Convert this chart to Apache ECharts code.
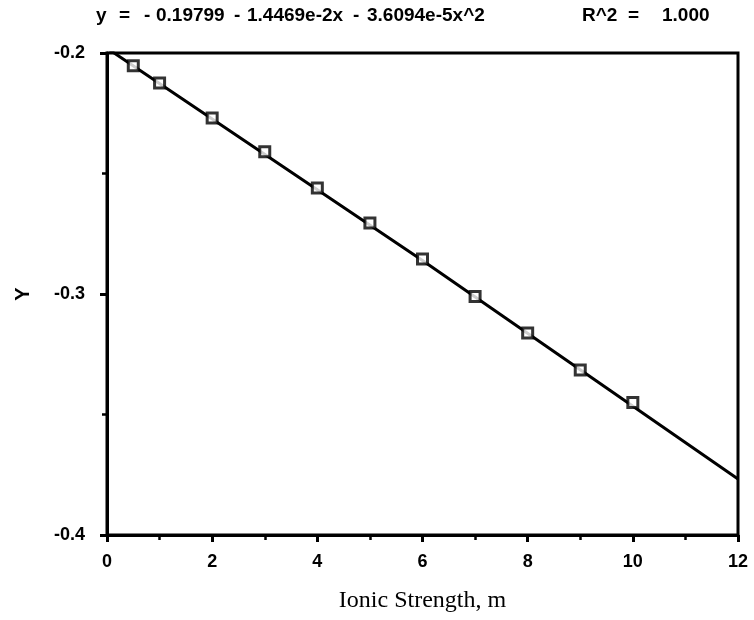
<!DOCTYPE html>
<html>
<head>
<meta charset="utf-8">
<script src="https://cdn.jsdelivr.net/npm/echarts@6/dist/echarts.min.js"></script>
<style>
html,body{margin:0;padding:0;background:#fff;}
#chart{width:754px;height:620px;}
</style>
</head>
<body>
<div id="chart"></div>
<script>
// Data
const pointX = [0.5, 1, 2, 3, 4, 5, 6, 7, 8, 9, 10];
const pointY = [-0.2053, -0.2124, -0.2270, -0.2410, -0.2560, -0.2705, -0.2855, -0.3010, -0.3162, -0.3315, -0.3450];
const fitX = [0, 6, 12];
const fitY = [-0.198, -0.2861, -0.3768];
// header text tokens (equation of the fit and R^2)
const headerTokens = ['y', '=', '-', '0.19799', '-', '1.4469e-2x', '-', '3.6094e-5x^2', 'R^2', '=', '1.000'];
const headerLeft = [96, 119, 144, 156, 234, 247, 353, 367, 582, 628, 662];
const xTitle = 'Ionic Strength, m';
const yTitle = 'Y';

const chart = echarts.init(document.getElementById('chart'), null, {renderer: 'canvas'});
const sansBold = 'Liberation Sans, Arial, sans-serif';
const labelFont = {fontFamily: sansBold, fontWeight: 'bold', fontSize: 18, color: '#000'};

chart.setOption({
  backgroundColor: '#fff',
  animation: false,
  graphic: headerTokens.map((t, i) => ({
    type: 'text', left: headerLeft[i], top: 6,
    style: {text: t, font: 'bold 19px ' + sansBold, fill: '#000'}
  })),
  grid: {left: 107, right: 16, top: 53, bottom: 85, show: true, borderColor: '#000', borderWidth: 3, backgroundColor: 'transparent'},
  xAxis: {
    type: 'value', min: 0, max: 12, interval: 2,
    name: xTitle, nameLocation: 'middle', nameGap: 54,
    nameTextStyle: {fontFamily: 'Liberation Serif, Times New Roman, serif', fontSize: 24, color: '#000'},
    axisLine: {show: true, lineStyle: {color: '#000', width: 3}},
    axisTick: {show: true, inside: false, length: 7, lineStyle: {color: '#000', width: 3}},
    minorTick: {show: true, splitNumber: 2, length: 5, lineStyle: {color: '#000', width: 2.5}},
    axisLabel: Object.assign({margin: 18}, labelFont),
    splitLine: {show: false}
  },
  yAxis: {
    type: 'value', min: -0.4, max: -0.2, interval: 0.1,
    name: yTitle, nameLocation: 'middle', nameGap: 74, nameRotate: 90,
    nameTextStyle: {fontFamily: sansBold, fontWeight: 'bold', fontSize: 20, color: '#000'},
    axisLine: {show: true, onZero: false, lineStyle: {color: '#000', width: 3}},
    axisTick: {show: true, inside: false, length: 7, lineStyle: {color: '#000', width: 3}},
    minorTick: {show: true, splitNumber: 2, length: 5, lineStyle: {color: '#000', width: 2.5}},
    axisLabel: Object.assign({margin: 22, formatter: v => v.toFixed(1)}, labelFont),
    splitLine: {show: false}
  },
  series: [
    {
      type: 'line', data: fitX.map((x, i) => [x, fitY[i]]),
      showSymbol: false, symbol: 'none', smooth: false,
      lineStyle: {color: '#000', width: 3}, z: 2
    },
    {
      type: 'scatter', data: pointX.map((x, i) => [x, pointY[i]]),
      symbol: 'rect', symbolSize: 10,
      itemStyle: {color: '#fff', borderColor: '#000', borderWidth: 3}, z: 3
    }
  ]
});
</script>
</body>
</html>
